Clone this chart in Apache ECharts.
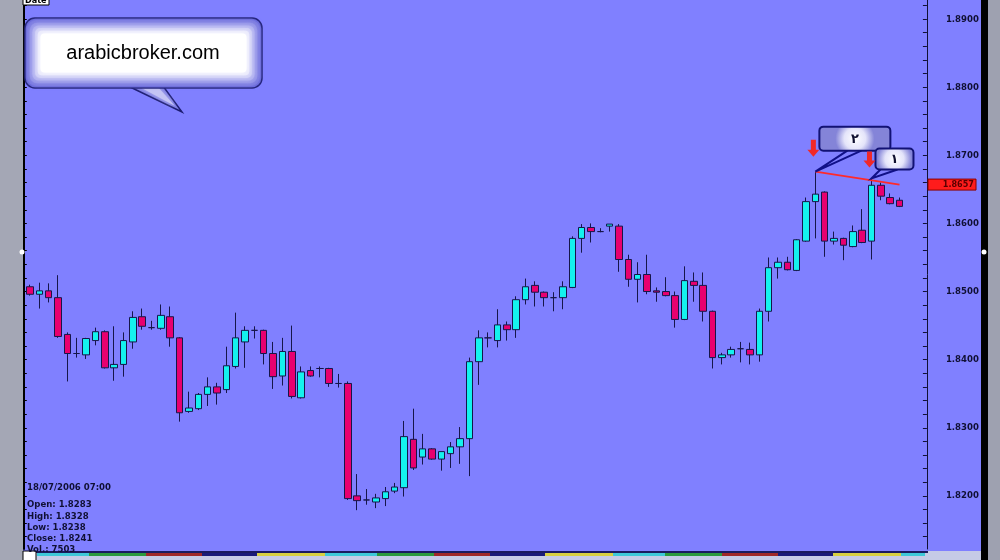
<!DOCTYPE html>
<html><head><meta charset="utf-8">
<script src="https://cdn.jsdelivr.net/npm/echarts@6/dist/echarts.min.js"></script>
<style>html,body{margin:0;padding:0;background:#a4a7b5;overflow:hidden}#c{width:1000px;height:560px}</style>
</head><body><div id="c"></div>
<script>
// ---- data (H1 candles) ----
const openP = [1.8507,1.8496,1.8501,1.8491,1.8437,1.8409,1.8407,1.8428,1.8441,1.8388,
1.8393,1.8426,1.8463,1.8447,1.8446,1.8463,1.8432,1.8324,1.8328,1.8349,
1.8360,1.8356,1.8390,1.8426,1.8443,1.8443,1.8409,1.8376,1.8412,1.8344,
1.8384,1.8387,1.8387,1.8365,1.8365,1.8200,1.8194,1.8191,1.8196,1.8207,
1.8212,1.8283,1.8257,1.8269,1.8254,1.8262,1.8272,1.8284,1.8397,1.8432,
1.8428,1.8451,1.8444,1.8488,1.8509,1.8499,1.8491,1.8491,1.8506,1.8578,
1.8594,1.8588,1.8596,1.8596,1.8547,1.8518,1.8525,1.8501,1.8500,1.8494,
1.8459,1.8515,1.8509,1.8471,1.8403,1.8407,1.8416,1.8415,1.8407,1.8471,
1.8535,1.8543,1.8531,1.8574,1.8632,1.8646,1.8574,1.8578,1.8566,1.8590,
1.8574,1.8656,1.8638,1.8634];
const highP = [1.8510,1.8513,1.8512,1.8524,1.8440,1.8432,1.8432,1.8447,1.8443,1.8449,
1.8440,1.8471,1.8475,1.8457,1.8481,1.8478,1.8433,1.8353,1.8351,1.8374,
1.8366,1.8419,1.8469,1.8449,1.8449,1.8444,1.8426,1.8432,1.8450,1.8390,
1.8390,1.8390,1.8388,1.8379,1.8368,1.8232,1.8210,1.8203,1.8213,1.8219,
1.8310,1.8328,1.8291,1.8270,1.8265,1.8279,1.8301,1.8403,1.8443,1.8440,
1.8474,1.8456,1.8493,1.8519,1.8515,1.8500,1.8499,1.8515,1.8581,1.8599,
1.8600,1.8593,1.8599,1.8599,1.8554,1.8543,1.8554,1.8506,1.8521,1.8500,
1.8537,1.8528,1.8528,1.8472,1.8410,1.8419,1.8426,1.8425,1.8475,1.8550,
1.8550,1.8551,1.8577,1.8638,1.8676,1.8647,1.8588,1.8579,1.8597,1.8621,
1.8666,1.8660,1.8644,1.8638];
const lowP = [1.8494,1.8475,1.8484,1.8432,1.8368,1.8403,1.8401,1.8421,1.8387,1.8369,
1.8375,1.8416,1.8444,1.8444,1.8444,1.8419,1.8309,1.8322,1.8326,1.8332,
1.8334,1.8351,1.8387,1.8388,1.8431,1.8393,1.8357,1.8362,1.8343,1.8343,
1.8375,1.8374,1.8360,1.8359,1.8194,1.8179,1.8187,1.8182,1.8185,1.8204,
1.8199,1.8238,1.8246,1.8253,1.8237,1.8241,1.8247,1.8229,1.8363,1.8418,
1.8418,1.8428,1.8432,1.8481,1.8478,1.8478,1.8471,1.8474,1.8505,1.8557,
1.8572,1.8587,1.8588,1.8529,1.8507,1.8484,1.8496,1.8485,1.8493,1.8447,
1.8458,1.8485,1.8456,1.8387,1.8393,1.8403,1.8396,1.8393,1.8397,1.8456,
1.8519,1.8531,1.8530,1.8573,1.8578,1.8551,1.8569,1.8546,1.8565,1.8571,
1.8547,1.8634,1.8628,1.8624];
const closeP = [1.8496,1.8501,1.8491,1.8434,1.8409,1.8409,1.8431,1.8441,1.8388,1.8393,
1.8428,1.8462,1.8449,1.8447,1.8465,1.8432,1.8322,1.8329,1.8349,1.8360,
1.8351,1.8391,1.8432,1.8443,1.8443,1.8409,1.8375,1.8412,1.8346,1.8382,
1.8376,1.8387,1.8365,1.8365,1.8196,1.8193,1.8194,1.8197,1.8206,1.8213,
1.8287,1.8241,1.8269,1.8254,1.8265,1.8272,1.8284,1.8397,1.8432,1.8432,
1.8451,1.8444,1.8488,1.8507,1.8499,1.8491,1.8491,1.8507,1.8578,1.8594,
1.8588,1.8588,1.8599,1.8547,1.8518,1.8525,1.8500,1.8499,1.8494,1.8459,
1.8516,1.8509,1.8471,1.8403,1.8407,1.8415,1.8416,1.8407,1.8471,1.8535,
1.8543,1.8532,1.8576,1.8632,1.8643,1.8574,1.8578,1.8568,1.8588,1.8572,
1.8656,1.8640,1.8629,1.8625];
const yLabels = [1.82,1.83,1.84,1.85,1.86,1.87,1.88,1.89];
const trendLine = [[84,1.8676],[93,1.8657]];   // [candle index, price]
const priceTag = 1.8657;
const calloutPoints = [{idx:84, text:'٢'},{idx:90, text:'١'}];
const infoLines = ['18/07/2006 07:00','Open: 1.8283','High: 1.8328','Low: 1.8238','Close: 1.8241','Vol.: 7503'];
const siteText = 'arabicbroker.com';
// time categories, hourly, candle 42 = 18/07/2006 07:00
const MONTHS=['Jan','Feb','Mar','Apr','May','Jun','Jul','Aug','Sep','Oct','Nov','Dec'];
const categories = openP.map((_,i)=>{
  const d=new Date(Date.UTC(2006,6,18,7)+(i-41)*3600e3);
  const p=n=>String(n).padStart(2,'0');
  return d.getUTCDate()+' '+MONTHS[d.getUTCMonth()]+' '+p(d.getUTCHours())+':00';
}).concat(['','']);

const FONT='"DejaVu Sans Condensed","DejaVu Sans",sans-serif';
const INK='#101034';
const YMIN=1.8122, YMAX=1.8928;
const tickVals=[]; for(let v=1.814;v<1.8925;v+=0.002) tickVals.push(+v.toFixed(3));

const chart=echarts.init(document.getElementById('c'),null,{renderer:'canvas'});
chart.setOption({
  animation:false,
  backgroundColor:'#a4a7b5',
  grid:{left:25.3,top:0,width:897.6,height:549,containLabel:false,outerBoundsMode:'none'},
  xAxis:{type:'category',data:categories,boundaryGap:true,
    axisLine:{show:false},axisTick:{show:false},splitLine:{show:false},
    axisLabel:{interval:(i)=>i%6===3,align:'left',margin:9,fontFamily:FONT,fontWeight:'bold',fontSize:9,color:'#000'}},
  yAxis:[
    {type:'value',position:'right',offset:4,min:YMIN,max:YMAX,
     axisLine:{show:true,lineStyle:{color:INK,width:1}},
     axisTick:{show:true,inside:true,length:4,customValues:tickVals,lineStyle:{color:INK}},
     axisLabel:{customValues:yLabels,margin:19,align:'left',fontFamily:FONT,fontWeight:'bold',fontSize:9.5,color:INK,formatter:v=>v.toFixed(4)},
     splitLine:{show:false}},
    {type:'value',position:'left',offset:1.5,min:YMIN,max:YMAX,
     axisLine:{show:true,lineStyle:{color:'#000',width:2}},
     axisTick:{show:true,inside:true,length:3,customValues:tickVals,lineStyle:{color:'#000'}},
     axisLabel:{show:false},splitLine:{show:false}}
  ],
  series:[
    {type:'candlestick',yAxisIndex:0,barWidth:7,
     data:openP.map((o,i)=>[o,closeP[i],lowP[i],highP[i]]),
     itemStyle:{color:'#14f2ee',color0:'#e8006f',borderColor:'#16164a',borderColor0:'#16164a',borderColorDoji:'#16164a',borderWidth:1}},
    {type:'line',yAxisIndex:0,data:trendLine,symbol:'none',z:5,
     lineStyle:{color:'#ff2a2a',width:1.6}}
  ]
});

// ---- annotations positioned from the data ----
const px=(i,v)=>chart.convertToPixel({seriesIndex:0},[i,v]);
const g=[];
// panel frame
g.push({type:'rect',z:-10,silent:true,shape:{x:23,y:0,width:958,height:551},style:{fill:'#8080ff'}});
g.push({type:'rect',z:-9,silent:true,shape:{x:981,y:0,width:7,height:560},style:{fill:'#000'}});
g.push({type:'rect',z:-9,silent:true,shape:{x:988,y:0,width:12,height:560},style:{fill:'#9ea1b0'}});
g.push({type:'rect',z:-9,silent:true,shape:{x:0,y:0,width:21,height:560},style:{fill:'#a4a7b5'}});
// Date box top-left
g.push({type:'rect',z:50,shape:{x:23,y:-2,width:26,height:7},style:{fill:'#fff',stroke:'#000',lineWidth:1}});
g.push({type:'text',z:51,style:{x:25,y:-4,text:'Date',font:'bold 9px '+FONT,fill:'#000'}});
// splitter dots
g.push({type:'circle',z:50,shape:{cx:22,cy:252,r:2.5},style:{fill:'#fff'}});
g.push({type:'circle',z:50,shape:{cx:984,cy:252,r:2.5},style:{fill:'#fff'}});
// site speech bubble with soft inner glow
g.push({type:'polygon',z:60,shape:{points:[[128,86],[182,112],[163,86]]},style:{fill:'#7c7ce2',stroke:'#1c1c72',lineWidth:1.5}});
g.push({type:'polygon',z:60,shape:{points:[[138,86],[175,106],[157,86]]},style:{fill:'#c4c4f4',shadowBlur:4,shadowColor:'#c4c4f4'}});
g.push({type:'rect',z:61,shape:{x:25,y:18,width:237,height:70,r:10},style:{fill:'#6666d8',stroke:'#1c1c72',lineWidth:1.5}});
const glow=['#7a7ae0','#9494e8','#b0b0f0','#cecef6','#eaeafc','#ffffff'];
glow.forEach((c,k)=>{
  const ins=2+k*2.7;
  g.push({type:'rect',z:62+k,shape:{x:25+ins,y:18+ins,width:237-2*ins,height:70-2*ins,r:Math.max(10-ins*0.5,4)},style:{fill:c,shadowBlur:4,shadowColor:c}});
});
g.push({type:'text',z:70,style:{x:143,y:53,text:siteText,align:'center',verticalAlign:'middle',font:'20px "Liberation Sans",Arial,sans-serif',fill:'#000',stroke:'#ffffff',lineWidth:1}});
// info block
infoLines.forEach((t,k)=>{
  g.push({type:'text',z:40,style:{x:27,y:(k===0?483:500+(k-1)*11.2),text:t,font:'bold 9.5px '+FONT,fill:INK}});
});
// price tag on axis
const tagY=px(0,priceTag)[1];
g.push({type:'rect',z:70,shape:{x:928,y:tagY-5.5,width:48,height:11},style:{fill:'#ff1c1c',stroke:'#8a0000',lineWidth:1}});
g.push({type:'text',z:71,style:{x:974,y:tagY,text:priceTag.toFixed(4),align:'right',verticalAlign:'middle',font:'bold 9px '+FONT,fill:'#5a0000'}});
// callouts with red arrows
calloutPoints.forEach((c,k)=>{
  const [x,y]=px(c.idx,highP[c.idx]);
  const big = k===0;
  const bx = x+4, by = big? y-45 : y-30, bw = big? 71 : 38, bh = big? 24 : 21;
  const l1 = big? [x+32,by+bh] : [x+9,by+bh], l2 = big? [x+46,by+bh] : [x+26,by+bh];
  g.push({type:'polyline',z:80,shape:{points:[l1,[x,y],l2]},style:{stroke:'#101088',lineWidth:2,fill:null}});
  g.push({type:'rect',z:81,shape:{x:bx,y:by,width:bw,height:bh,r:4},style:{
    fill:{type:'radial',x:0.5,y:0.5,r:0.75,colorStops:[{offset:0,color:'#ffffff'},{offset:0.55,color:'#e4e4fa'},{offset:1,color:'#8484d8'}]},
    stroke:'#121274',lineWidth:2}});
  g.push({type:'text',z:82,style:{x:bx+bw/2,y:by+bh/2+1,text:c.text,align:'center',verticalAlign:'middle',font:'bold 13px "DejaVu Sans",sans-serif',fill:'#101030'}});
  const ax = x-2, tipY = big? y-15 : y-11, len = big? 17 : 16;
  g.push({type:'polygon',z:83,shape:{points:[[ax-2.5,tipY-len],[ax+2.5,tipY-len],[ax+2.5,tipY-7],[ax+6,tipY-7],[ax,tipY],[ax-6,tipY-7],[ax-2.5,tipY-7]]},style:{fill:'#f02828'}});
});
// bottom time strip
g.push({type:'rect',z:30,shape:{x:23,y:551,width:958,height:9},style:{fill:'#c6cbe6'}});
g.push({type:'rect',z:31,shape:{x:36,y:551,width:892,height:2},style:{fill:'#1a1a5e'}});
const segCols=['#3ec8d8','#2c9a3c','#a02828','#1a1a78','#d8d040'];
const segW=[52,57,56,55,68];
let sx=37, si=0;
while(sx<925){const w=Math.min(segW[si%5],925-sx);g.push({type:'rect',z:32,shape:{x:sx,y:553,width:w,height:3},style:{fill:segCols[si%5]}});sx+=w;si++;}
g.push({type:'rect',z:33,shape:{x:23,y:551,width:13,height:12},style:{fill:'#fff',stroke:'#000',lineWidth:1}});
chart.setOption({graphic:{elements:g}});
</script>
</body></html>
